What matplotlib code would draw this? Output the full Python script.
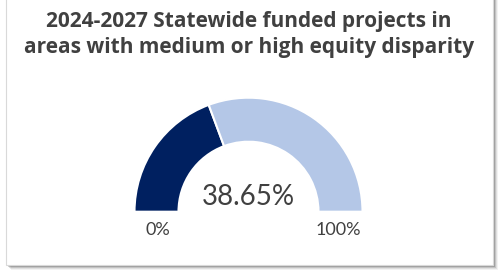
import matplotlib
matplotlib.use("Agg")
import matplotlib.pyplot as plt
from matplotlib.patches import Wedge, Rectangle

# gauge data
title_lines = ["2024-2027 Statewide funded projects in",
               "areas with medium or high equity disparity"]
value = 38.65
min_value = 0
max_value = 100
min_label = "0%"
max_label = "100%"

W, H = 499, 275
fig = plt.figure(figsize=(W / 100, H / 100), dpi=100)
ax = fig.add_axes([0, 0, 1, 1])
ax.set_xlim(0, W)
ax.set_ylim(0, H)
ax.axis("off")

# card with soft shadow
for i, a in enumerate([0.05, 0.08, 0.12, 0.18]):
    off = 5 - i
    ax.add_patch(Rectangle((6 + off, H - 265 - off), 487, 270, color="black",
                           alpha=a, lw=0))
ax.add_patch(Rectangle((6, H - 265), 487, 272, facecolor="white",
                       edgecolor="#d9d9d9", lw=0.8))

# title
ax.text(249, H - 21, title_lines[0], ha="center", va="center", fontsize=15,
        fontweight="bold", color="#404040", family="Open Sans")
ax.text(249, H - 48, title_lines[1], ha="center", va="center", fontsize=15,
        fontweight="bold", color="#404040", family="Open Sans")

# gauge
cx, cy = 248.5, H - 211.7
r_out, r_in = 114, 70
frac = (value - min_value) / (max_value - min_value)
split = 180 - 180 * frac
ax.add_patch(Wedge((cx, cy), r_out, split, 180, width=r_out - r_in,
                   facecolor="#002060", edgecolor="white", lw=1.5))
ax.add_patch(Wedge((cx, cy), r_out, 0, split, width=r_out - r_in,
                   facecolor="#b4c7e7", edgecolor="white", lw=1.5))

ax.text(cx, H - 197, f"{value:.2f}%", ha="center", va="center", fontsize=20,
        color="#404040", family="Lato")
ax.text(157.5, H - 230, min_label, ha="center", va="center", fontsize=13,
        color="#404040", family="Lato")
ax.text(338, H - 230, max_label, ha="center", va="center", fontsize=13,
        color="#404040", family="Lato")

fig.savefig("out.png", dpi=100, facecolor="white")
